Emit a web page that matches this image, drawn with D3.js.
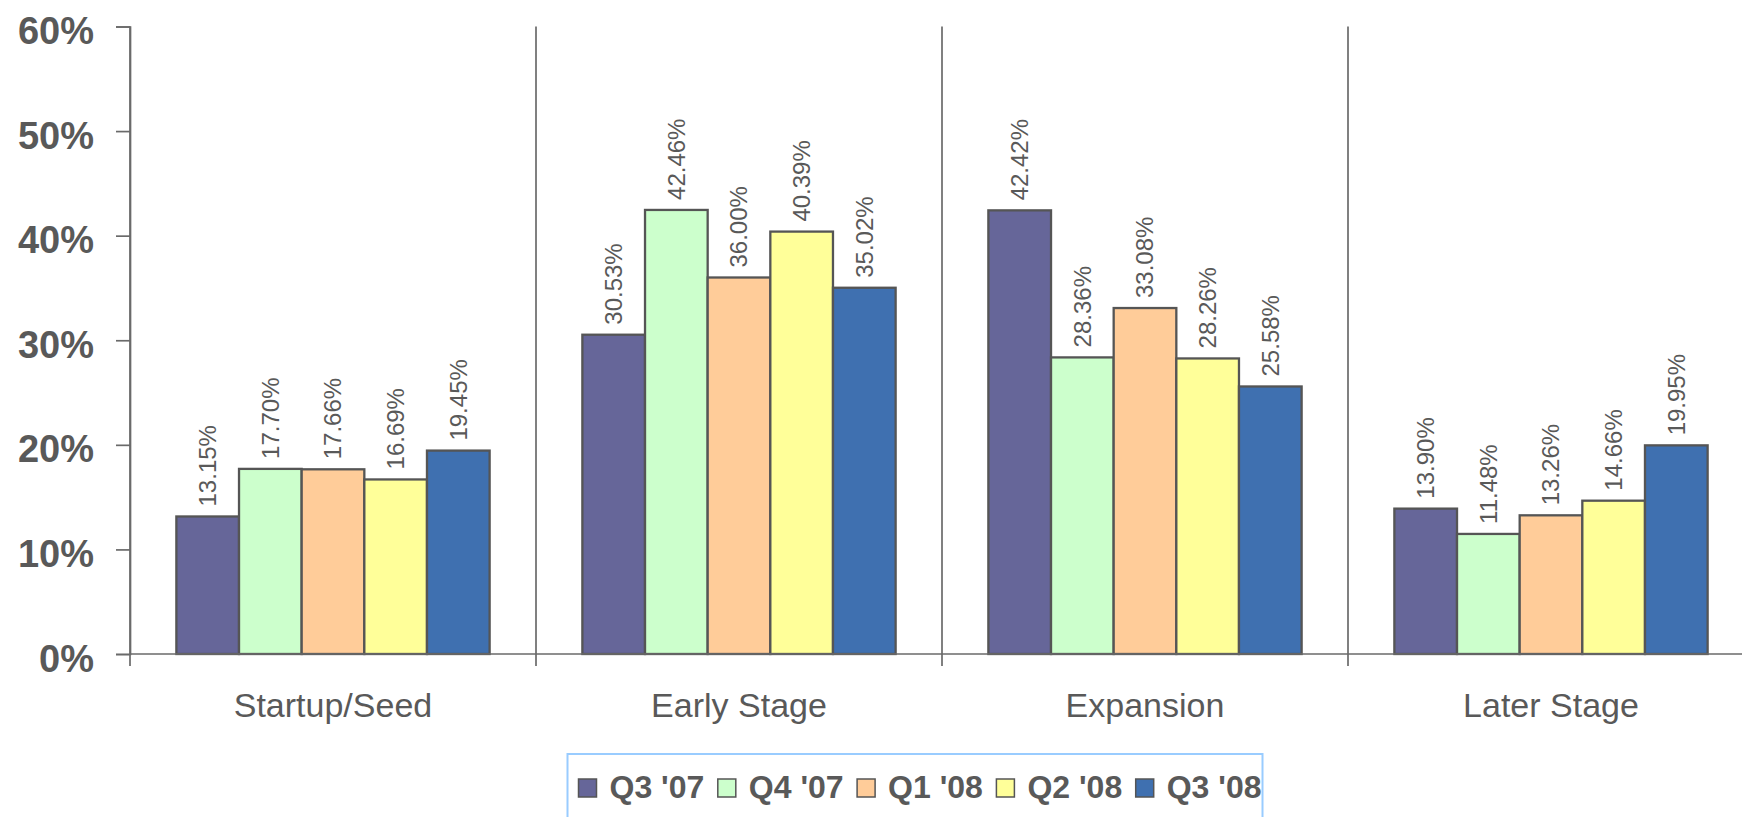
<!DOCTYPE html>
<html>
<head>
<meta charset="utf-8">
<script src="https://cdn.jsdelivr.net/npm/d3@7"></script>
<style>
  html, body { margin: 0; padding: 0; background: #ffffff; }
  svg { display: block; }
</style>
</head>
<body>
<svg id="chart" width="1742" height="817"></svg>
<script>
// Investment share by stage, per quarter
const categories = ["Startup/Seed", "Early Stage", "Expansion", "Later Stage"];
const seriesNames = ["Q3 '07", "Q4 '07", "Q1 '08", "Q2 '08", "Q3 '08"];
const q3_07 = [13.15, 30.53, 42.42, 13.90];
const q4_07 = [17.70, 42.46, 28.36, 11.48];
const q1_08 = [17.66, 36.00, 33.08, 13.26];
const q2_08 = [16.69, 40.39, 28.26, 14.66];
const q3_08 = [19.45, 35.02, 25.58, 19.95];
const yTicks = [0, 10, 20, 30, 40, 50, 60];

const seriesValues = [q3_07, q4_07, q1_08, q2_08, q3_08];
const colors = ["#666699", "#ccffcc", "#ffcc99", "#ffff99", "#3f70b0"];

const textColor = "#595959";
const axisColor = "#6a6a6a";
const barStroke = "#555555";

const svg = d3.select("#chart");

const left = 130, baseY = 654, topY = 26.5, catW = 406;

const x0 = d3.scaleBand().domain(categories).range([left, left + catW * categories.length]).padding(0);
const x1 = d3.scaleBand().domain(seriesNames).range([0, x0.bandwidth()]).paddingInner(0).paddingOuter(0.74);
const y = d3.scaleLinear().domain([0, 60]).range([baseY, topY]);

// Category separators (full height) with ticks below the baseline
const bounds = categories.map(c => x0(c)).concat([x0.range()[1]]);
svg.append("g").selectAll("line").data(bounds).join("line")
  .attr("x1", d => d).attr("x2", d => d)
  .attr("y1", topY).attr("y2", baseY + 12)
  .attr("stroke", axisColor).attr("stroke-width", 1.7);

// Bars
const rows = [];
categories.forEach((c, ci) => {
  seriesNames.forEach((s, si) => {
    rows.push({ cat: c, series: s, value: seriesValues[si][ci], color: colors[si] });
  });
});

svg.append("g").selectAll("rect").data(rows).join("rect")
  .attr("x", d => x0(d.cat) + x1(d.series))
  .attr("y", d => y(d.value))
  .attr("width", x1.bandwidth())
  .attr("height", d => baseY - y(d.value))
  .attr("fill", d => d.color)
  .attr("stroke", barStroke)
  .attr("stroke-width", 2.3);

// Value labels, rotated
svg.append("g").selectAll("text").data(rows).join("text")
  .attr("transform", d => `translate(${x0(d.cat) + x1(d.series) + x1.bandwidth() / 2},${y(d.value) - 10}) rotate(-90)`)
  .attr("dy", "0.35em")
  .attr("text-anchor", "start")
  .attr("font-family", "'Liberation Sans', Arial, sans-serif")
  .attr("font-size", 24)
  .attr("fill", textColor)
  .text(d => d.value.toFixed(2) + "%");

// Y axis
const yAxis = d3.axisLeft(y).tickValues(yTicks).tickSize(14).tickFormat(d => d + "%");
const gy = svg.append("g").attr("transform", `translate(${left},0)`).call(yAxis);
gy.select(".domain").attr("stroke", axisColor).attr("stroke-width", 1.7);
gy.selectAll(".tick line").attr("stroke", axisColor).attr("stroke-width", 1.7);
gy.selectAll(".tick text")
  .attr("x", -36).attr("dy", 17)
  .attr("font-family", "'Liberation Sans', Arial, sans-serif")
  .attr("font-weight", "bold")
  .attr("font-size", 38)
  .attr("fill", textColor);

// X axis baseline
const xAxis = d3.axisBottom(x0).tickSize(0).tickFormat("");
const gx = svg.append("g").attr("transform", `translate(0,${baseY})`).call(xAxis);
gx.select(".domain").attr("stroke", axisColor).attr("stroke-width", 1.7)
  .attr("d", `M${x0.range()[0]},0H${x0.range()[1]}`);

// Category labels
svg.append("g").selectAll("text").data(categories).join("text")
  .attr("x", d => x0(d) + x0.bandwidth() / 2)
  .attr("y", 716.5)
  .attr("text-anchor", "middle")
  .attr("font-family", "'Liberation Sans', Arial, sans-serif")
  .attr("font-size", 34)
  .attr("fill", textColor)
  .text(d => d);

// Legend
const legend = svg.append("g");
legend.append("rect")
  .attr("x", 567.5).attr("y", 754)
  .attr("width", 695).attr("height", 80)
  .attr("fill", "none")
  .attr("stroke", "#99ccff")
  .attr("stroke-width", 2);

const items = legend.selectAll("g.item").data(seriesNames).join("g")
  .attr("class", "item")
  .attr("transform", (d, i) => `translate(${578.5 + i * 139.3},779)`);
items.append("rect")
  .attr("width", 18).attr("height", 18)
  .attr("fill", (d, i) => colors[i])
  .attr("stroke", barStroke).attr("stroke-width", 1.5);
items.append("text")
  .attr("x", 31).attr("y", 18.5)
  .attr("font-family", "'Liberation Sans', Arial, sans-serif")
  .attr("font-weight", "bold")
  .attr("font-size", 32)
  .attr("fill", textColor)
  .text(d => d);
</script>
</body>
</html>
